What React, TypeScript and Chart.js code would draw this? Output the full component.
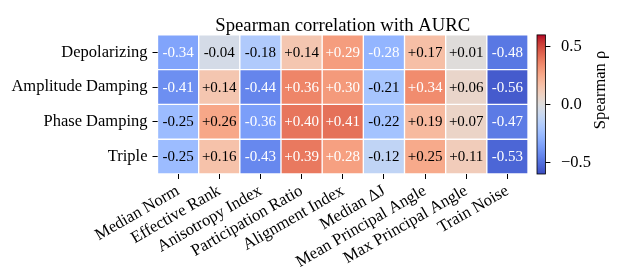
import React, { useEffect, useRef } from "react";
import { Chart, registerables } from "chart.js";

Chart.register(...registerables);

const rows = ["Depolarizing", "Amplitude Damping", "Phase Damping", "Triple"];
const metrics = [
  "Median Norm",
  "Effective Rank",
  "Anisotropy Index",
  "Participation Ratio",
  "Alignment Index",
  "Median ΔJ",
  "Mean Principal Angle",
  "Max Principal Angle",
  "Train Noise",
];
const depolarizing = [-0.34, -0.04, -0.18, 0.14, 0.29, -0.28, 0.17, 0.01, -0.48];
const amplitudeDamping = [-0.41, 0.14, -0.44, 0.36, 0.3, -0.21, 0.34, 0.06, -0.56];
const phaseDamping = [-0.25, 0.26, -0.36, 0.4, 0.41, -0.22, 0.19, 0.07, -0.47];
const triple = [-0.25, 0.16, -0.43, 0.39, 0.28, -0.12, 0.25, 0.11, -0.53];
const matrix = [depolarizing, amplitudeDamping, phaseDamping, triple];
const colorbarTicks = [-0.5, 0, 0.5];
const vmin = -0.6;
const vmax = 0.6;

const FONT = "'Liberation Serif', 'Times New Roman', serif";

const coolwarmTable: number[][] = [
  [59, 76, 192], [68, 90, 204], [77, 104, 215], [87, 117, 225], [98, 130, 234],
  [108, 142, 241], [119, 154, 247], [130, 165, 251], [141, 176, 254], [152, 185, 255],
  [163, 194, 255], [174, 201, 253], [184, 208, 249], [194, 213, 244], [204, 217, 238],
  [213, 219, 230], [221, 221, 221], [229, 216, 209], [236, 211, 197], [241, 204, 185],
  [245, 196, 173], [247, 187, 160], [247, 177, 148], [247, 166, 135], [244, 154, 123],
  [241, 141, 111], [236, 127, 99], [229, 112, 88], [222, 96, 77], [213, 80, 66],
  [203, 62, 56], [192, 40, 47], [180, 4, 38],
];

function coolwarm(t: number): string {
  const tt = Math.max(0, Math.min(1, t));
  const n = coolwarmTable.length - 1;
  const f = tt * n;
  const i = Math.min(n - 1, Math.floor(f));
  const r = f - i;
  const a = coolwarmTable[i];
  const b = coolwarmTable[i + 1];
  const c = a.map((v, k) => Math.round(v + (b[k] - v) * r));
  return `rgb(${c[0]},${c[1]},${c[2]})`;
}

function colorFor(v: number): string {
  return coolwarm((v - vmin) / (vmax - vmin));
}

function fmt(v: number): string {
  return (v >= 0 ? "+" : "-") + Math.abs(v).toFixed(2);
}

const cellLabels = {
  id: "cellLabels",
  afterDatasetsDraw(chart: any) {
    const ctx = chart.ctx;
    ctx.save();
    ctx.font = `15px ${FONT}`;
    ctx.textAlign = "center";
    ctx.textBaseline = "middle";
    chart.data.datasets.forEach((_ds: any, di: number) => {
      const meta = chart.getDatasetMeta(di);
      const vals = matrix[di];
      meta.data.forEach((el: any, i: number) => {
        const v = vals[i];
        const p = el.getProps(["x", "y", "base"], true);
        ctx.fillStyle = Math.abs(v) > 0.27 ? "#ffffff" : "#000000";
        ctx.fillText(fmt(v), p.x, (p.y + p.base) / 2 + 0.5);
      });
    });
    ctx.restore();
  },
};

const colorbar = {
  id: "colorbar",
  afterDraw(chart: any) {
    const ctx = chart.ctx;
    const s = chart.scales.y2;
    const ca = chart.chartArea;
    const x0 = ca.right + 9;
    const w = 8.5;
    const top = s.getPixelForValue(vmax);
    const bot = s.getPixelForValue(vmin);
    ctx.save();
    const g = ctx.createLinearGradient(0, bot, 0, top);
    coolwarmTable.forEach((c, i) => {
      g.addColorStop(i / (coolwarmTable.length - 1), `rgb(${c[0]},${c[1]},${c[2]})`);
    });
    ctx.fillStyle = g;
    ctx.fillRect(x0, top, w, bot - top);
    ctx.strokeStyle = "#000";
    ctx.lineWidth = 0.8;
    ctx.strokeRect(x0, top, w, bot - top);
    ctx.lineWidth = 1;
    colorbarTicks.forEach((v) => {
      const y = Math.round(s.getPixelForValue(v)) + 0.5;
      ctx.beginPath();
      ctx.moveTo(x0 + w, y);
      ctx.lineTo(x0 + w + 4.9, y);
      ctx.stroke();
    });
    ctx.fillStyle = "#000";
    ctx.font = `16.5px ${FONT}`;
    ctx.textAlign = "center";
    ctx.textBaseline = "middle";
    ctx.translate(601, 90);
    ctx.rotate(-Math.PI / 2);
    ctx.fillText("Spearman ρ", 0, 0);
    ctx.restore();
  },
};

export default function App() {
  const ref = useRef<HTMLCanvasElement | null>(null);

  useEffect(() => {
    if (!ref.current) return;
    Chart.defaults.font.family = FONT;
    const chart = new Chart(ref.current, {
      type: "bar",
      data: {
        labels: metrics,
        datasets: rows.map((r, i) => ({
          label: r,
          data: metrics.map(() => 1),
          backgroundColor: matrix[i].map((v) => colorFor(v)),
          borderColor: "#ffffff",
          borderWidth: 1,
          borderSkipped: false,
          barPercentage: 1,
          categoryPercentage: 1,
        })),
      },
      options: {
        animation: false,
        responsive: true,
        maintainAspectRatio: false,
        layout: { padding: 0 },
        plugins: {
          legend: { display: false },
          tooltip: { enabled: false },
          title: {
            display: true,
            text: "Spearman correlation with AURC",
            fullSize: false,
            color: "#000",
            font: { family: FONT, size: 18.7, weight: "normal", lineHeight: "18px" },
            padding: 0,
          },
        },
        scales: {
          x: {
            type: "category",
            stacked: true,
            offset: true,
            grid: { display: true, offset: false, drawOnChartArea: false, tickLength: 5, color: "#000" },
            border: { display: false },
            ticks: {
              maxRotation: 30,
              minRotation: 30,
              autoSkip: false,
              padding: 2,
              color: "#000",
              font: { family: FONT, size: 16.7 },
            },
            afterFit(scale: any) {
              scale.height = 97;
            },
          },
          y: {
            type: "linear",
            stacked: true,
            min: 0,
            max: 4,
            reverse: true,
            grid: { display: true, drawOnChartArea: false, tickLength: 5, color: "#000" },
            border: { display: false },
            ticks: {
              padding: 5,
              color: "#000",
              font: { family: FONT, size: 16.5 },
              callback: (_v: any, i: number) => rows[i],
            },
            afterBuildTicks(scale: any) {
              scale.ticks = rows.map((_r, i) => ({ value: i + 0.5 }));
            },
            afterFit(scale: any) {
              scale.width = 157.5;
            },
          },
          y2: {
            type: "linear",
            position: "right",
            min: vmin,
            max: vmax,
            grid: { display: false },
            border: { display: false },
            ticks: {
              padding: 25,
              color: "#000",
              font: { family: FONT, size: 16.5 },
              callback: (v: any) => {
                const n = Number(v);
                return (n < 0 ? "\u2212" : "") + Math.abs(n).toFixed(1);
              },
            },
            afterBuildTicks(scale: any) {
              scale.ticks = colorbarTicks.map((v) => ({ value: v }));
            },
            afterFit(scale: any) {
              scale.width = 96;
            },
          },
        },
      } as any,
      plugins: [cellLabels, colorbar],
    });
    return () => chart.destroy();
  }, []);

  return (
    <div style={{ position: "absolute", left: 0, top: 0, width: 624, height: 271, background: "#fff" }}>
      <canvas ref={ref} />
    </div>
  );
}
